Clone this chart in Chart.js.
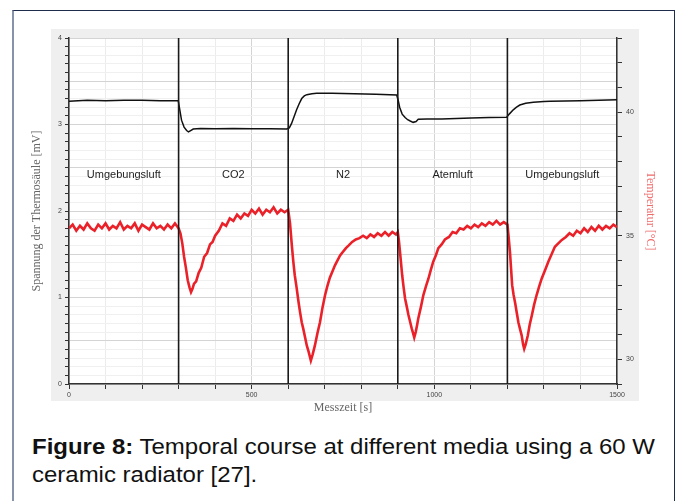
<!DOCTYPE html>
<html>
<head>
<meta charset="utf-8">
<script src="https://cdn.jsdelivr.net/npm/chart.js@4.4.1/dist/chart.umd.min.js"></script>
<style>
  body { margin: 0; background: #fff; width: 680px; height: 501px; overflow: hidden; position: relative; font-family: "Liberation Sans", Arial, sans-serif; }
  .frame { position: absolute; left: 12px; top: 10px; width: 663px; height: 500px; box-sizing: border-box;
           border-top: 1px solid #1f2d4d; border-right: 1px solid #1f2d4d; border-left: 2.5px solid #8693ab; }
  .panel { position: absolute; left: 51px; top: 29px; width: 588px; height: 372px; background: #efefef; }
  .chart-wrap { position: absolute; left: 0; top: 0; width: 680px; height: 420px; }
  .caption { position: absolute; left: 32px; top: 433px; font-size: 22px; line-height: 28px; color: #111; white-space: nowrap;
             transform: scaleX(1.09); transform-origin: left top; }
</style>
</head>
<body>
<div class="frame"></div>
<div class="panel"></div>
<div class="chart-wrap"><canvas id="chart" width="680" height="420"></canvas></div>
<div class="caption"><b>Figure 8:</b> Temporal course at different media using a 60 W<br>ceramic radiator [27].</div>

<script>
// Thermopile voltage (left axis, mV)
const blackTime = [0, 50, 100, 150, 200, 250, 299,
    302, 308, 315, 322, 327, 333, 340,
    360, 400, 450, 500, 550, 596,
    603, 609, 616, 623, 630, 637, 644, 651, 665, 678,
    720, 780, 840, 897,
    901, 905, 912, 920, 927, 934, 942, 950, 956,
    980, 1020, 1060, 1100, 1150, 1198,
    1205, 1216, 1225, 1234, 1250, 1271, 1300, 1317,
    1400, 1450, 1500];
const blackVolt = [3.27, 3.28, 3.275, 3.28, 3.28, 3.275, 3.275,
    3.2, 3.05, 2.97, 2.93, 2.915, 2.93, 2.948,
    2.955, 2.95, 2.955, 2.95, 2.95, 2.948,
    2.96, 3.01, 3.09, 3.17, 3.24, 3.30, 3.33, 3.345, 3.355, 3.36,
    3.36, 3.355, 3.35, 3.34,
    3.28, 3.2, 3.12, 3.08, 3.055, 3.04, 3.025, 3.035, 3.06,
    3.065, 3.065, 3.07, 3.075, 3.08, 3.085,
    3.12, 3.17, 3.2, 3.225, 3.245, 3.257, 3.265, 3.27,
    3.275, 3.28, 3.285];

// Temperature (right axis, °C)
const redTime = [0, 10, 20, 30, 40, 50, 60, 70, 80, 90, 100, 110, 120, 130, 140, 150,
    160, 170, 180, 190, 200, 210, 220, 230, 240, 250, 260, 270, 280, 290, 300,
    305, 310, 315, 320, 325, 330, 334, 338, 342, 348, 355, 362, 370, 378, 386, 393,
    400, 410, 420, 430, 440, 450, 460, 470, 480, 490, 500, 510, 520, 530, 540, 550,
    560, 570, 580, 590, 600,
    605, 610, 614, 618, 623, 628, 632, 637, 641, 646, 651, 656, 662, 667, 673, 680,
    687, 694, 701, 707, 714, 721, 728, 735, 742, 750, 758, 765, 775, 785, 795, 805,
    815, 825, 835, 845, 855, 865, 875, 885, 895, 900,
    903, 906, 912, 916, 920, 925, 929, 934, 938, 942, 945, 949, 953, 956, 963, 970,
    977, 984, 990, 997, 1004, 1011, 1020, 1029, 1040, 1050, 1060, 1070, 1080, 1090,
    1100, 1110, 1120, 1130, 1140, 1150, 1160, 1170, 1180, 1190, 1200,
    1203, 1207, 1213, 1217, 1221, 1226, 1230, 1235, 1239, 1243, 1246, 1250, 1256,
    1261, 1267, 1273, 1280, 1287, 1294, 1303, 1312, 1321, 1330, 1340, 1349, 1360,
    1370, 1380, 1390, 1400, 1410, 1420, 1430, 1440, 1450, 1460, 1470, 1480, 1490, 1500];
const redTemp = [35.3, 35.45, 35.2, 35.4, 35.25, 35.5, 35.3, 35.2, 35.45, 35.3, 35.5, 35.25, 35.4, 35.3, 35.55, 35.25,
    35.4, 35.3, 35.5, 35.2, 35.45, 35.35, 35.25, 35.5, 35.3, 35.4, 35.25, 35.45, 35.3, 35.5, 35.3,
    35.1, 34.7, 34.15, 33.7, 33.2, 32.9, 32.72, 32.85, 33.05, 33.15, 33.5, 33.7, 34.15, 34.3, 34.65, 34.75,
    35.0, 35.2, 35.5, 35.4, 35.7, 35.6, 35.85, 35.7, 35.9, 35.8, 36.05, 35.9, 36.1, 35.85, 36.05, 35.95,
    36.15, 35.9, 36.05, 35.95, 36.05,
    35.5, 34.6, 33.95, 33.4, 32.9, 32.35, 31.95, 31.5, 31.25, 30.9, 30.55, 30.3, 29.95, 30.2, 30.55, 31.05,
    31.5, 32.1, 32.6, 32.95, 33.3, 33.55, 33.8, 34.0, 34.2, 34.35, 34.5, 34.6, 34.75, 34.85, 34.9, 35.0,
    34.9, 35.05, 34.95, 35.1, 35.0, 35.15, 35.0, 35.15, 35.05, 35.15,
    34.8, 34.35, 33.4, 32.9, 32.45, 32.1, 31.8, 31.5, 31.25, 31.05, 30.88, 31.1, 31.4, 31.65, 32.1, 32.6,
    32.95, 33.27, 33.6, 33.95, 34.2, 34.5, 34.65, 34.85, 34.95, 35.15, 35.1, 35.3, 35.25, 35.4,
    35.3, 35.45, 35.35, 35.5, 35.4, 35.55, 35.45, 35.6, 35.45, 35.55, 35.45,
    35.0, 34.35, 33.0, 32.6, 32.3, 31.85, 31.5, 31.2, 30.97, 30.6, 30.42, 30.6, 30.97,
    31.4, 31.78, 32.2, 32.6, 32.95, 33.27, 33.6, 33.95, 34.25, 34.55, 34.7, 34.83, 34.95,
    35.1, 35.0, 35.2, 35.1, 35.3, 35.15, 35.35, 35.2, 35.4, 35.25, 35.4, 35.3, 35.45, 35.35];

// Medium changes and their names
const phaseBounds = [300, 600, 900, 1200];
const phaseMid = [150, 450, 750, 1050, 1350];
const phaseNames = ['Umgebungsluft', 'CO2', 'N2', 'Atemluft', 'Umgebungsluft'];
const phaseLabelLevel = 2.42;

// Labelled tick values
const xLabels = [0, 500, 1000, 1500];
const leftLabels = [0, 1, 2, 3, 4];
const rightLabels = [30, 35, 40];

const near = (v, list) => list.some(l => Math.abs(l - v) < 1e-6);
const tickFont = { family: '"Liberation Sans", Arial, sans-serif', size: 7 };
const titleFont = { family: '"Liberation Serif", "Times New Roman", serif', size: 12 };

const decorations = {
    id: 'decorations',
    beforeDraw(chart) {
        const { ctx, chartArea } = chart;
        ctx.save();
        ctx.fillStyle = '#ffffff';
        ctx.fillRect(chartArea.left, chartArea.top, chartArea.right - chartArea.left, chartArea.bottom - chartArea.top);
        ctx.restore();
    },
    afterDatasetsDraw(chart) {
        const { ctx, chartArea, scales: { x, y } } = chart;
        ctx.save();
        ctx.strokeStyle = '#1a1a1a';
        ctx.lineWidth = 1.6;
        phaseBounds.forEach(t => {
            const px = x.getPixelForValue(t);
            ctx.beginPath();
            ctx.moveTo(px, chartArea.top);
            ctx.lineTo(px, chartArea.bottom);
            ctx.stroke();
        });
        ctx.fillStyle = '#1e1e1e';
        ctx.font = '11px "Liberation Sans", Arial, sans-serif';
        ctx.textAlign = 'center';
        ctx.textBaseline = 'middle';
        phaseNames.forEach((name, i) => {
            ctx.fillText(name, x.getPixelForValue(phaseMid[i]), y.getPixelForValue(phaseLabelLevel));
        });
        ctx.restore();
    }
};

new Chart(document.getElementById('chart'), {
    type: 'line',
    data: {
        datasets: [
            {
                label: 'Spannung',
                data: blackTime.map((t, i) => ({ x: t, y: blackVolt[i] })),
                yAxisID: 'y',
                borderColor: '#111111',
                borderWidth: 1.5,
                pointRadius: 0,
                tension: 0
            },
            {
                label: 'Temperatur',
                data: redTime.map((t, i) => ({ x: t, y: redTemp[i] })),
                yAxisID: 'y1',
                borderColor: '#ea2129',
                borderWidth: 2.6,
                pointRadius: 0,
                tension: 0
            }
        ]
    },
    options: {
        responsive: false,
        animation: false,
        layout: { padding: { top: 38, left: 0, right: 0, bottom: 0 } },
        plugins: { legend: { display: false }, tooltip: { enabled: false } },
        scales: {
            x: {
                type: 'linear',
                min: 0,
                max: 1500,
                afterFit: s => { s.height = 36; },
                ticks: {
                    stepSize: 100,
                    autoSkip: false,
                    maxRotation: 0,
                    padding: 2,
                    font: tickFont,
                    color: '#444',
                    callback: v => near(v, xLabels) ? String(v) : ''
                },
                grid: {
                    color: c => (c.tick && c.tick.value % 500 === 0) ? '#d4d4d4' : '#ececec',
                    tickColor: '#333',
                    tickLength: 5
                },
                border: { color: '#333', width: 1.5 },
                title: {
                    display: true,
                    text: 'Messzeit [s]',
                    color: '#666',
                    font: titleFont,
                    padding: { top: 0, bottom: 4.8 }
                }
            },
            y: {
                position: 'left',
                min: 0,
                max: 4,
                afterFit: s => { s.width = 69; },
                ticks: {
                    stepSize: 0.1,
                    autoSkip: false,
                    padding: 3,
                    font: tickFont,
                    color: '#444',
                    callback: v => near(v, leftLabels) ? String(Math.round(v)) : ''
                },
                grid: {
                    color: c => {
                        const v = c.tick ? c.tick.value : 0;
                        return Math.abs(v * 2 - Math.round(v * 2)) < 1e-6 ? '#d4d4d4' : '#f0f0f0';
                    },
                    tickColor: '#333',
                    tickLength: 4
                },
                border: { color: '#333', width: 1.5 },
                title: {
                    display: true,
                    text: 'Spannung der Thermosäule [mV]',
                    color: '#666',
                    font: titleFont,
                    padding: { top: 29.8, bottom: 0 }
                }
            },
            y1: {
                position: 'right',
                min: 29,
                max: 43,
                afterFit: s => { s.width = 63; },
                ticks: {
                    stepSize: 1,
                    autoSkip: false,
                    padding: 4,
                    font: tickFont,
                    color: '#444',
                    callback: v => near(v, rightLabels) ? String(v) : ''
                },
                grid: {
                    drawOnChartArea: false,
                    tickColor: '#333',
                    tickLength: 5
                },
                border: { color: '#333', width: 1.5 },
                title: {
                    display: true,
                    text: 'Temperatur [°C]',
                    color: '#f06a6a',
                    font: titleFont,
                    padding: { top: 22.8, bottom: 0 }
                }
            }
        }
    },
    plugins: [decorations]
});
</script>
</body>
</html>
